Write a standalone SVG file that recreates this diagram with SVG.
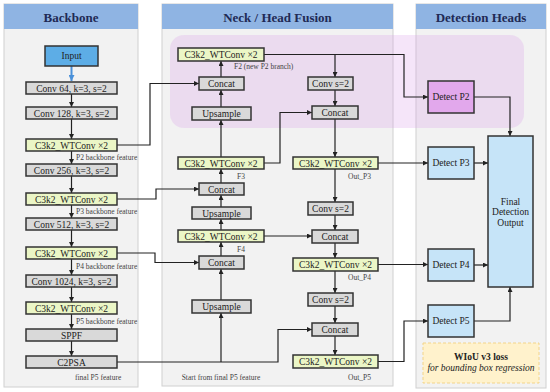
<svg xmlns="http://www.w3.org/2000/svg" width="550" height="392" viewBox="0 0 550 392">
<defs>
<marker id="ah" viewBox="0 0 10 10" refX="10" refY="5" markerWidth="5" markerHeight="5" markerUnits="userSpaceOnUse" orient="auto"><path d="M0,0 L10,5 L0,10 z" fill="#222"/></marker>
<marker id="ahb" viewBox="0 0 10 10" refX="10" refY="5" markerWidth="6" markerHeight="6" markerUnits="userSpaceOnUse" orient="auto"><path d="M0,0 L10,5 L0,10 z" fill="#4a90d9"/></marker>
<style>
.panel{fill:#f2f2f2;stroke:#d0d0d0;stroke-width:1}
.hdr{fill:#8fb4e3}
.ht{font-family:"Liberation Serif",serif;font-weight:bold;font-size:13px;fill:#1f2a55;text-anchor:middle}
.g{fill:#d9d9d9;stroke:#333;stroke-width:1.5}
.y{fill:#ebf6c6;stroke:#333;stroke-width:1.5}
.b{fill:#c6e4f8;stroke:#333;stroke-width:1.5}
.t{font-family:"Liberation Serif",serif;font-size:9.5px;fill:#222;text-anchor:middle}
.s{font-family:"Liberation Serif",serif;font-size:7.5px;fill:#444}
.c{fill:none;stroke:#222;stroke-width:1.2}
</style>
</defs>
<rect width="550" height="392" fill="#fff"/>
<!-- panels -->
<g id="panel-backbone">
<rect class="panel" x="4" y="4" width="134" height="383"/>
<rect class="hdr" x="4" y="4" width="134" height="25"/>
<text class="ht" x="71" y="21.5">Backbone</text>
</g>
<g id="panel-neck">
<rect class="panel" x="162" y="4" width="231" height="382"/>
<rect class="hdr" x="162" y="4" width="231" height="25"/>
<text class="ht" x="277.5" y="21.5">Neck / Head Fusion</text>
</g>
<g id="panel-heads">
<rect class="panel" x="416" y="4" width="130" height="384"/>
<rect class="hdr" x="416" y="4" width="130" height="25"/>
<text class="ht" x="481" y="21.5">Detection Heads</text>
</g>
<g id="p2-region">
<rect x="170" y="35" width="354" height="93" rx="14" fill="#dca0ea" fill-opacity="0.28"/>
</g>
<!-- connectors -->
<g id="connectors">
<path d="M71.5,66 V81" stroke="#4a90d9" stroke-width="2" fill="none" marker-end="url(#ahb)"/>
<path class="c" d="M71.5,94 V107" marker-end="url(#ah)"/>
<path class="c" d="M71.5,119 V139" marker-end="url(#ah)"/>
<path class="c" d="M71.5,151 V164" marker-end="url(#ah)"/>
<path class="c" d="M71.5,176 V193" marker-end="url(#ah)"/>
<path class="c" d="M71.5,205 V218" marker-end="url(#ah)"/>
<path class="c" d="M71.5,230 V247" marker-end="url(#ah)"/>
<path class="c" d="M71.5,259 V275" marker-end="url(#ah)"/>
<path class="c" d="M71.5,287 V302" marker-end="url(#ah)"/>
<path class="c" d="M71.5,314 V329" marker-end="url(#ah)"/>
<path class="c" d="M71.5,341 V356" marker-end="url(#ah)"/>
<!-- backbone to neck -->
<path class="c" d="M117,145 H150 V83.5 H199" marker-end="url(#ah)"/>
<path class="c" d="M117,199 H156 V189 H199" marker-end="url(#ah)"/>
<path class="c" d="M117,253 H155 V262.5 H199" marker-end="url(#ah)"/>
<path class="c" d="M117,362 H278 V329.5 H312" marker-end="url(#ah)"/>
<path class="c" d="M221,362 V313" marker-end="url(#ah)"/>
<!-- left column -->
<path class="c" d="M221,300 V269" marker-end="url(#ah)"/>
<path class="c" d="M221,256 V242" marker-end="url(#ah)"/>
<path class="c" d="M221,230 V219" marker-end="url(#ah)"/>
<path class="c" d="M264,236 H312" marker-end="url(#ah)"/>
<path class="c" d="M221,207 V195" marker-end="url(#ah)"/>
<path class="c" d="M221,183 V169" marker-end="url(#ah)"/>
<path class="c" d="M221,157 V120" marker-end="url(#ah)"/>
<path class="c" d="M264,163 H280 V112.5 H312" marker-end="url(#ah)"/>
<path class="c" d="M221,107 V90" marker-end="url(#ah)"/>
<path class="c" d="M221,77 V61" marker-end="url(#ah)"/>
<path class="c" d="M264,54.5 H404 V97 H428" marker-end="url(#ah)"/>
<path class="c" d="M335,54.5 V77" marker-end="url(#ah)"/>
<!-- right column -->
<path class="c" d="M335,90 V106" marker-end="url(#ah)"/>
<path class="c" d="M335,119 V157" marker-end="url(#ah)"/>
<path class="c" d="M335,169 V202" marker-end="url(#ah)"/>
<path class="c" d="M335,215 V230" marker-end="url(#ah)"/>
<path class="c" d="M335,243 V258" marker-end="url(#ah)"/>
<path class="c" d="M335,271 V293" marker-end="url(#ah)"/>
<path class="c" d="M335,306 V323" marker-end="url(#ah)"/>
<path class="c" d="M335,336 V355" marker-end="url(#ah)"/>
<path class="c" d="M378,163 H428" marker-end="url(#ah)"/>
<path class="c" d="M378,264.5 H428" marker-end="url(#ah)"/>
<path class="c" d="M378,361.5 H404 V321 H428" marker-end="url(#ah)"/>
<!-- heads -->
<path class="c" d="M474,97 H510 V136" marker-end="url(#ah)"/>
<path class="c" d="M474,163 H488" marker-end="url(#ah)"/>
<path class="c" d="M474,265 H488" marker-end="url(#ah)"/>
<path class="c" d="M474,321 H510 V287" marker-end="url(#ah)"/>
</g>
<!-- backbone nodes -->
<g id="input"><rect x="45" y="46" width="53" height="20" fill="#5dade6" stroke="#333" stroke-width="1.5"/><text class="t" x="71.5" y="59">Input</text></g>
<g id="conv64"><rect class="g" x="26" y="82" width="91" height="12"/><text class="t" x="71.5" y="91.5">Conv 64, k=3, s=2</text></g>
<g id="conv128"><rect class="g" x="26" y="107" width="91" height="12"/><text class="t" x="71.5" y="116.5">Conv 128, k=3, s=2</text></g>
<g id="bb-c3k2-p2"><rect class="y" x="26" y="139" width="91" height="12"/><text class="t" x="71.5" y="148.5">C3k2_WTConv ×2</text></g>
<text class="s" x="76" y="160">P2 backbone feature</text>
<g id="conv256"><rect class="g" x="26" y="164" width="91" height="12"/><text class="t" x="71.5" y="173.5">Conv 256, k=3, s=2</text></g>
<g id="bb-c3k2-p3"><rect class="y" x="26" y="193" width="91" height="12"/><text class="t" x="71.5" y="202.5">C3k2_WTConv ×2</text></g>
<text class="s" x="76" y="214">P3 backbone feature</text>
<g id="conv512"><rect class="g" x="26" y="218" width="91" height="12"/><text class="t" x="71.5" y="227.5">Conv 512, k=3, s=2</text></g>
<g id="bb-c3k2-p4"><rect class="y" x="26" y="247" width="91" height="12"/><text class="t" x="71.5" y="256.5">C3k2_WTConv ×2</text></g>
<text class="s" x="76" y="268.5">P4 backbone feature</text>
<g id="conv1024"><rect class="g" x="26" y="275" width="91" height="12"/><text class="t" x="71.5" y="284.5">Conv 1024, k=3, s=2</text></g>
<g id="bb-c3k2-p5"><rect class="y" x="26" y="302" width="91" height="12"/><text class="t" x="71.5" y="311.5">C3k2_WTConv ×2</text></g>
<text class="s" x="76" y="324">P5 backbone feature</text>
<g id="sppf"><rect class="g" x="26" y="329" width="91" height="12"/><text class="t" x="71.5" y="338.5">SPPF</text></g>
<g id="c2psa"><rect class="g" x="26" y="356" width="91" height="12"/><text class="t" x="71.5" y="365.5">C2PSA</text></g>
<text class="s" x="75" y="380">final P5 feature</text>
<!-- neck left -->
<g id="f2"><rect class="y" x="178" y="48" width="86" height="13"/><text class="t" x="221" y="58">C3k2_WTConv ×2</text></g>
<text class="s" x="234" y="69">F2 (new P2 branch)</text>
<g id="concat-l1"><rect class="g" x="199" y="77" width="45" height="13"/><text class="t" x="221.5" y="87">Concat</text></g>
<g id="up-l1"><rect class="g" x="192" y="107" width="59" height="13"/><text class="t" x="221.5" y="117">Upsample</text></g>
<g id="f3"><rect class="y" x="178" y="157" width="86" height="12"/><text class="t" x="221" y="166.5">C3k2_WTConv ×2</text></g>
<text class="s" x="237" y="178.5">F3</text>
<g id="concat-l2"><rect class="g" x="199" y="183" width="45" height="12"/><text class="t" x="221.5" y="192.5">Concat</text></g>
<g id="up-l2"><rect class="g" x="192" y="207" width="59" height="12"/><text class="t" x="221.5" y="216.5">Upsample</text></g>
<g id="f4"><rect class="y" x="178" y="230" width="86" height="12"/><text class="t" x="221" y="239.5">C3k2_WTConv ×2</text></g>
<text class="s" x="237" y="251.5">F4</text>
<g id="concat-l3"><rect class="g" x="199" y="256" width="45" height="13"/><text class="t" x="221.5" y="266">Concat</text></g>
<g id="up-l3"><rect class="g" x="192" y="300" width="59" height="13"/><text class="t" x="221.5" y="310">Upsample</text></g>
<text class="s" x="221" y="380" text-anchor="middle">Start from final P5 feature</text>
<!-- neck right -->
<g id="conv-r1"><rect class="g" x="308" y="77" width="45" height="13"/><text class="t" x="330.5" y="87">Conv s=2</text></g>
<g id="concat-r1"><rect class="g" x="312" y="106" width="46" height="13"/><text class="t" x="335" y="116">Concat</text></g>
<g id="out-p3"><rect class="y" x="293" y="157" width="85" height="12"/><text class="t" x="335.5" y="166.5">C3k2_WTConv ×2</text></g>
<text class="s" x="359.5" y="179" text-anchor="middle">Out_P3</text>
<g id="conv-r2"><rect class="g" x="308" y="202" width="45" height="13"/><text class="t" x="330.5" y="212">Conv s=2</text></g>
<g id="concat-r2"><rect class="g" x="312" y="230" width="46" height="13"/><text class="t" x="335" y="240">Concat</text></g>
<g id="out-p4"><rect class="y" x="293" y="258" width="85" height="13"/><text class="t" x="335.5" y="268">C3k2_WTConv ×2</text></g>
<text class="s" x="359.5" y="280" text-anchor="middle">Out_P4</text>
<g id="conv-r3"><rect class="g" x="308" y="293" width="45" height="13"/><text class="t" x="330.5" y="303">Conv s=2</text></g>
<g id="concat-r3"><rect class="g" x="312" y="323" width="46" height="13"/><text class="t" x="335" y="333">Concat</text></g>
<g id="out-p5"><rect class="y" x="293" y="355" width="85" height="13"/><text class="t" x="335.5" y="365">C3k2_WTConv ×2</text></g>
<text class="s" x="359.5" y="380" text-anchor="middle">Out_P5</text>
<!-- heads -->
<g id="detect-p2"><rect x="428" y="81" width="46" height="32" fill="#e2a8ec" stroke="#333" stroke-width="1.5"/><text class="t" x="451" y="100">Detect P2</text></g>
<g id="detect-p3"><rect class="b" x="428" y="147" width="46" height="32"/><text class="t" x="451" y="166">Detect P3</text></g>
<g id="detect-p4"><rect class="b" x="428" y="249" width="46" height="32"/><text class="t" x="451" y="268">Detect P4</text></g>
<g id="detect-p5"><rect class="b" x="428" y="305" width="46" height="32"/><text class="t" x="451" y="324">Detect P5</text></g>
<g id="final"><rect class="b" x="488" y="136" width="45" height="151"/><text class="t" x="510.5" y="205">Final</text><text class="t" x="510.5" y="215">Detection</text><text class="t" x="510.5" y="225.5">Output</text></g>
<g id="wiou"><rect x="423" y="343" width="116" height="40" fill="#fff2cc" stroke="#f2d48a" stroke-width="1" stroke-dasharray="3,2"/>
<text class="t" x="481" y="360" font-weight="bold">WIoU v3 loss</text>
<text class="t" x="481" y="371" font-style="italic">for bounding box regression</text></g>
</svg>
